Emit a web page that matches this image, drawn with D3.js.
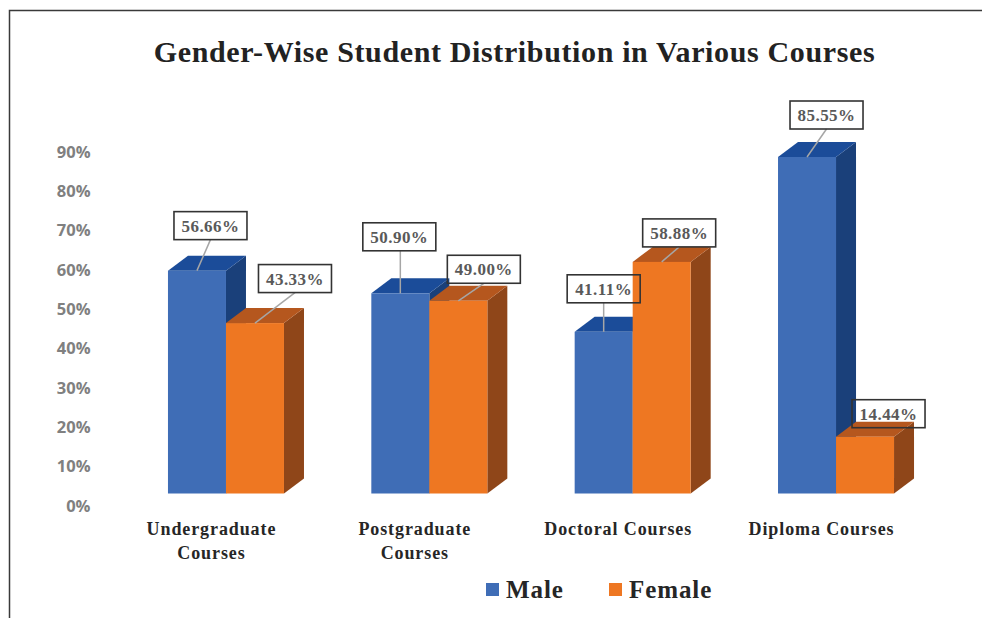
<!DOCTYPE html>
<html><head><meta charset="utf-8">
<script src="https://cdnjs.cloudflare.com/ajax/libs/d3/7.8.5/d3.min.js"></script>
<style>html,body{margin:0;background:#fff}svg{display:block}</style></head>
<body><svg id="c" width="982" height="618"></svg>
<script>
const titleText = "Gender-Wise Student Distribution in Various Courses";
const categories = ["Undergraduate Courses","Postgraduate Courses","Doctoral Courses","Diploma Courses"];
const categoryLines = [["Undergraduate","Courses"],["Postgraduate","Courses"],["Doctoral Courses"],["Diploma Courses"]];
const seriesNames = ["Male","Female"];
const maleValues = [56.66,50.90,41.11,85.55];
const femaleValues = [43.33,49.00,58.88,14.44];
const tickValues = [0,10,20,30,40,50,60,70,80,90];

// label box offsets from the top-front centre of each bar
const maleLabelOffset = [[13.5,-45],[-1,-56.5],[0,-43],[19.5,-42]];
const femaleLabelOffset = [[40,-44.5],[25.5,-31.5],[17.5,-29],[23.5,-23]];

const svg = d3.select("#c");
const serif = "'Liberation Serif','Times New Roman',serif";
const colors = {
  Male:{front:"#3f6db6",top:"#1b4c99",side:"#1a407a"},
  Female:{front:"#ee7722",top:"#b5571e",side:"#8f4619"}
};
const depthX = 20, depthY = 15, baseShift = 12.5, boxW = 73, boxH = 28;

// frame
svg.append("path").attr("d","M9.5,618V10.5H982").attr("fill","none").attr("stroke","#3a3a3a").attr("stroke-width",1.5);

svg.append("text").attr("x",514.5).attr("y",62).attr("text-anchor","middle")
  .attr("font-family",serif).attr("font-weight",700).attr("font-size",30).attr("letter-spacing",0.63)
  .attr("fill","#222").text(titleText);

const y = d3.scaleLinear().domain([0,90]).range([506,152]);
const x0 = d3.scaleBand().domain(categories).range([124.3,937.7]).paddingInner(0.4295).paddingOuter(0.21475);
const x1 = d3.scaleBand().domain(seriesNames).range([0,x0.bandwidth()]);

// y axis labels
const axis = d3.axisLeft(y).tickValues(tickValues).tickSize(0).tickPadding(0).tickFormat(d=>d+"%");
const gA = svg.append("g").attr("transform","translate(90.5,0)").call(axis);
gA.select(".domain").remove();
gA.selectAll("text").attr("font-family","'Open Sans',sans-serif").attr("font-weight",700)
  .attr("font-size",16.5).attr("fill","#808080");

// category labels
const gC = svg.append("g");
categories.forEach((c,i)=>{
  const t = gC.append("text").attr("text-anchor","middle").attr("font-family",serif).attr("font-weight",700)
    .attr("font-size",18).attr("letter-spacing",0.9).attr("fill","#262626");
  categoryLines[i].forEach((l,j)=>t.append("tspan").attr("x",x0(c)+x0.bandwidth()/2-14.5).attr("y",535+j*23.5).text(l));
});

const rows = [];
categories.forEach((c,i)=>{
  rows.push({c,s:"Male",v:maleValues[i],off:maleLabelOffset[i]});
  rows.push({c,s:"Female",v:femaleValues[i],off:femaleLabelOffset[i]});
});
rows.forEach(r=>{
  r.x = x0(r.c)+x1(r.s); r.w = x1.bandwidth();
  r.base = y(0)-baseShift; r.top = y(r.v)-baseShift;
  r.ax = r.x+r.w/2; r.bx = r.ax+r.off[0]; r.by = r.top+r.off[1];
});

// label fill + text lie under the bars
const gL = svg.append("g");
gL.selectAll("rect").data(rows).join("rect")
  .attr("x",d=>d.bx-boxW/2).attr("y",d=>d.by-boxH/2).attr("width",boxW).attr("height",boxH).attr("fill","#fff");
gL.selectAll("text").data(rows).join("text").attr("x",d=>d.bx).attr("y",d=>d.by+6).attr("text-anchor","middle")
  .attr("font-family",serif).attr("font-weight",700).attr("font-size",17).attr("letter-spacing",0.45)
  .attr("fill","#595959").text(d=>d.v.toFixed(2)+"%");

// 3D bars, drawn male then female in each group
const gB = svg.append("g").selectAll("g").data(rows).join("g");
gB.append("path").attr("fill",d=>colors[d.s].side)
  .attr("d",d=>`M${d.x+d.w},${d.top}l${depthX},${-depthY}V${d.base-depthY}l${-depthX},${depthY}Z`);
gB.append("path").attr("fill",d=>colors[d.s].top)
  .attr("d",d=>`M${d.x},${d.top}l${depthX},${-depthY}h${d.w}l${-depthX},${depthY}Z`);
gB.append("rect").attr("fill",d=>colors[d.s].front)
  .attr("x",d=>d.x).attr("y",d=>d.top).attr("width",d=>d.w).attr("height",d=>d.base-d.top);

// leaders and box outlines on top
const gO = svg.append("g");
gO.selectAll("line").data(rows.filter(d=>d.v!==14.44)).join("line")
  .attr("x1",d=>Math.abs(d.off[0])<4?d.ax:d.bx).attr("y1",d=>d.by+boxH/2)
  .attr("x2",d=>d.ax).attr("y2",d=>d.top).attr("stroke","#a6a6a6").attr("stroke-width",1.5);
gO.selectAll("rect").data(rows).join("rect")
  .attr("x",d=>d.bx-boxW/2).attr("y",d=>d.by-boxH/2).attr("width",boxW).attr("height",boxH)
  .attr("fill","none").attr("stroke","#333").attr("stroke-width",1.6);

// legend
const legendX = d3.scaleOrdinal().domain(seriesNames).range([486,609]);
const gLeg = svg.append("g").selectAll("g").data(seriesNames).join("g")
  .attr("transform",d=>`translate(${legendX(d)},583)`);
gLeg.append("rect").attr("width",13).attr("height",13).attr("fill",d=>colors[d].front);
gLeg.append("text").attr("x",20).attr("y",15).attr("font-family",serif).attr("font-weight",700)
  .attr("font-size",25).attr("letter-spacing",0.9).attr("fill","#262626").text(d=>d);
</script></body></html>
